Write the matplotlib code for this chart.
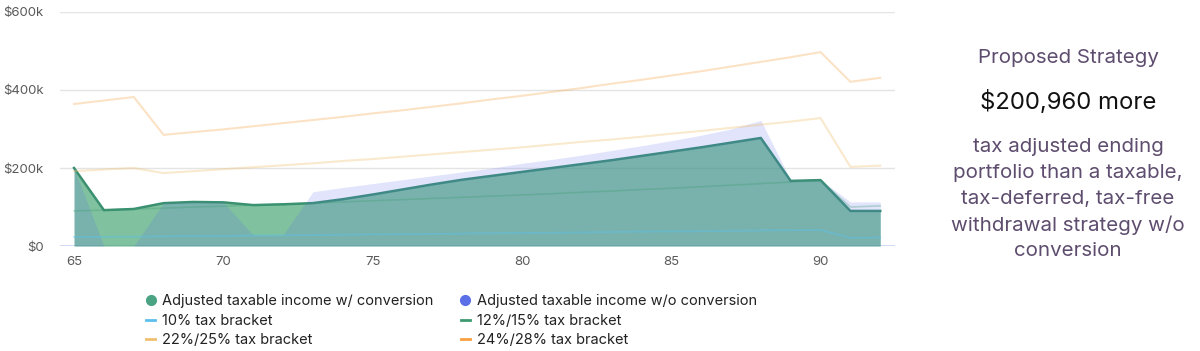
import matplotlib.pyplot as plt
from matplotlib.lines import Line2D

plt.rcParams['font.family'] = ['Inter', 'DejaVu Sans']

# Edad
ages = list(range(65, 93))

# Ingreso gravable ajustado (miles de $)
with_conv = [200, 92, 95, 110, 113, 112, 105, 107, 110, 120, 132, 145, 158, 170,
             180, 190, 200, 210, 220, 231, 242, 253, 265, 277, 167, 169, 90, 90]
without_conv = [200, 0, 0, 110, 113, 112, 28, 28, 139, 150, 160, 170, 180, 190,
                200, 212, 222, 233, 245, 257, 270, 284, 300, 322, 169, 170, 113, 113]

# Tramos de impuestos (miles de $)
bracket_10 = [23, 23.5, 24, 25, 25.5, 26, 27, 27.5, 28, 29, 30, 30.5, 31, 32,
              33, 33.5, 34, 35, 36, 37, 37.5, 38, 39, 40, 40.5, 41, 21, 22]
bracket_12_15 = [90, 92, 95, 97, 100, 102, 105, 107, 110, 113, 116, 119, 122, 125,
                 128, 131, 134, 138, 141, 145, 148, 152, 156, 160, 164, 168, 100, 103]
bracket_22_25 = [192, 196, 200, 187, 192, 197, 202, 207, 212, 218, 223, 229, 235, 241,
                 247, 253, 260, 267, 273, 280, 288, 295, 303, 311, 319, 328, 203, 206]
bracket_24_28 = [364, 373, 382, 285, 292, 299, 307, 315, 323, 331, 340, 348, 357, 366,
                 376, 385, 395, 405, 416, 426, 437, 448, 460, 472, 484, 497, 421, 431]

y_ticks = [0, 200, 400, 600]
y_labels = ['$0', '$200k', '$400k', '$600k']
x_ticks = [65, 70, 75, 80, 85, 90]

green = '#3c9a70'
blue = '#5a6eeb'
light_blue = '#5bc0eb'
tan = '#f0c070'
orange = '#f8a040'

fig = plt.figure(figsize=(12, 3.51), dpi=100)
ax = fig.add_axes([0.05, 0.299, 0.696, 0.667])

# Areas
ax.fill_between(ages, with_conv, color='#3ca06e', alpha=0.65, lw=0, zorder=2)
ax.plot(ages, with_conv, color='#3a9070', lw=1.8, zorder=3)
ax.fill_between(ages, without_conv, color=blue, alpha=0.18, lw=0, zorder=4)

# Tramos
ax.plot(ages, bracket_10, color=light_blue, lw=1.3, alpha=0.45, zorder=5)
ax.plot(ages, bracket_12_15, color=green, lw=1.2, alpha=0.3, zorder=5)
ax.plot(ages, bracket_22_25, color=tan, lw=1.5, alpha=0.35, zorder=5)
ax.plot(ages, bracket_24_28, color=orange, lw=1.5, alpha=0.3, zorder=5)

ax.set_ylim(0, 600)
ax.set_xlim(64.53, 92.5)
ax.set_yticks(y_ticks)
ax.set_yticklabels(y_labels)
ax.set_xticks(x_ticks)
for s in ax.spines.values():
    s.set_visible(False)
ax.tick_params(length=0, labelsize=9.5, colors='#5a5a5a')
ax.tick_params(axis='y', pad=12)
ax.tick_params(axis='x', pad=7)
for v in y_ticks[1:]:
    ax.axhline(v, color='#e4e4e4', lw=1, zorder=1)
ax.axhline(0, color='#c8d2f2', lw=1.2, zorder=1)

# Leyenda
handles = [
    Line2D([], [], marker='o', ls='none', color='#4aa383', markersize=7),
    Line2D([], [], color=light_blue, lw=2),
    Line2D([], [], color=tan, lw=2),
    Line2D([], [], marker='o', ls='none', color='#5b6fe6', markersize=7),
    Line2D([], [], color=green, lw=2),
    Line2D([], [], color=orange, lw=2),
]
labels = ['Adjusted taxable income w/ conversion', '10% tax bracket', '22%/25% tax bracket',
          'Adjusted taxable income w/o conversion', '12%/15% tax bracket', '24%/28% tax bracket']
leg = fig.legend(handles, labels, ncol=2, loc='upper left', bbox_to_anchor=(0.122, 0.162),
                 frameon=False, fontsize=10.5, handlelength=0.6, handletextpad=0.5,
                 columnspacing=1.85, labelspacing=0.38, borderaxespad=0, borderpad=0)
for t in leg.get_texts():
    t.set_color('#222222')

# Texto a la derecha
purple = '#5e4d6e'
fig.text(0.89, 1 - 58 / 351, 'Proposed Strategy', ha='center', va='center', fontsize=14.8, color=purple)
fig.text(0.89, 1 - 102 / 351, '$200,960 more', ha='center', va='center', fontsize=17.2, color='#111111')
para = ['tax adjusted ending', 'portfolio than a taxable,', 'tax-deferred, tax-free',
        'withdrawal strategy w/o', 'conversion']
for i, line in enumerate(para):
    fig.text(0.89, 1 - (147 + 26 * i) / 351, line, ha='center', va='center', fontsize=14.8, color=purple)

plt.savefig('out.png', dpi=100)
